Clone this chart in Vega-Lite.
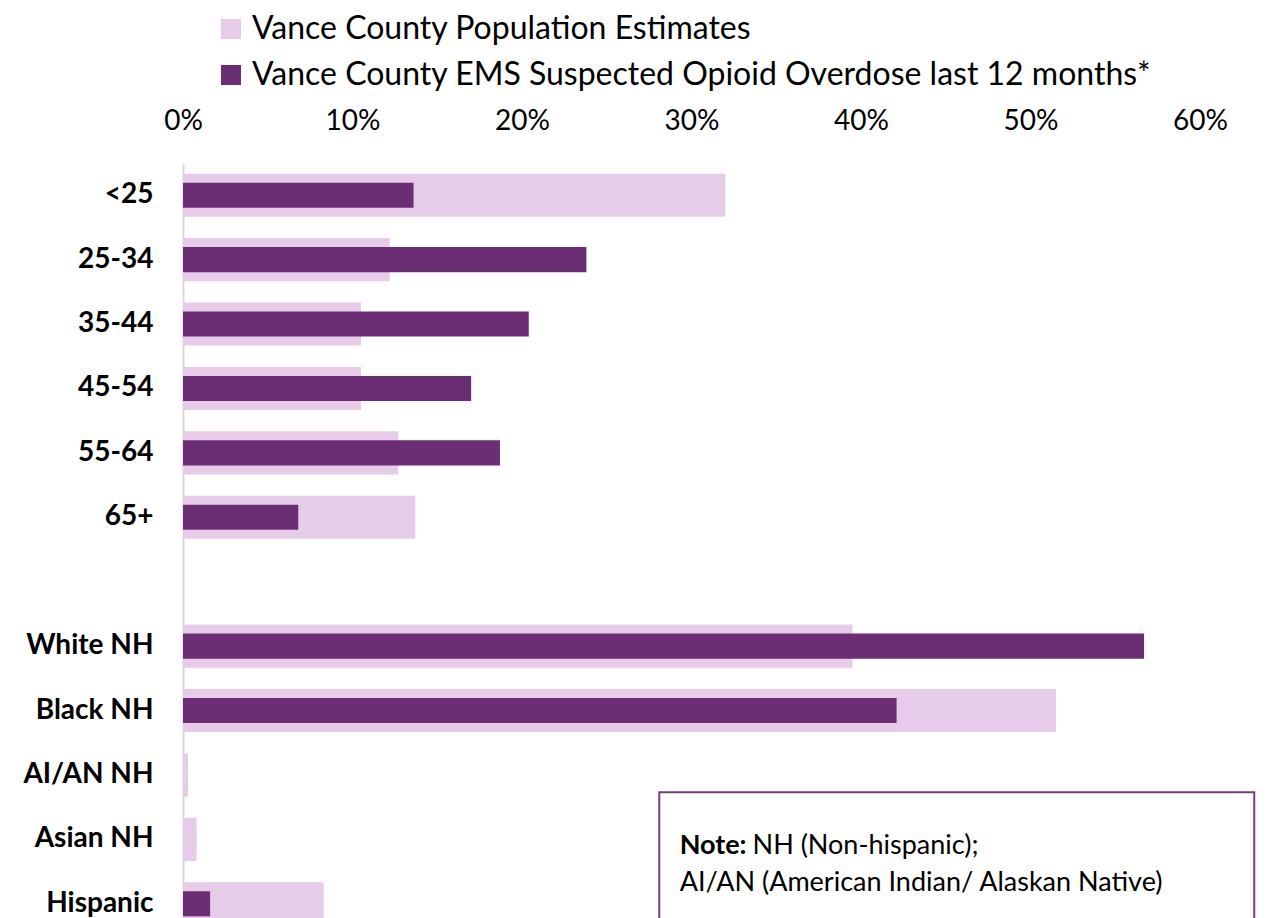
{
  "$schema": "https://vega.github.io/schema/vega-lite/v6.json",
  "autosize": {"type": "none"},
  "padding": {"left": 183, "top": 163, "right": 66, "bottom": 0},
  "width": 1017,
  "height": 755,
  "background": "white",
  "config": {"view": {"stroke": null}, "font": "Lato"},
  "datasets": {
    "bars": [
      {"category": "<25", "series": "Vance County Population Estimates", "value": 0.320},
      {"category": "25-34", "series": "Vance County Population Estimates", "value": 0.122},
      {"category": "35-44", "series": "Vance County Population Estimates", "value": 0.105},
      {"category": "45-54", "series": "Vance County Population Estimates", "value": 0.105},
      {"category": "55-64", "series": "Vance County Population Estimates", "value": 0.127},
      {"category": "65+", "series": "Vance County Population Estimates", "value": 0.137},
      {"category": "White NH", "series": "Vance County Population Estimates", "value": 0.395},
      {"category": "Black NH", "series": "Vance County Population Estimates", "value": 0.515},
      {"category": "AI/AN NH", "series": "Vance County Population Estimates", "value": 0.003},
      {"category": "Asian NH", "series": "Vance County Population Estimates", "value": 0.008},
      {"category": "Hispanic", "series": "Vance County Population Estimates", "value": 0.083},
      {"category": "<25", "series": "Vance County EMS Suspected Opioid Overdose last 12 months*", "value": 0.136},
      {"category": "25-34", "series": "Vance County EMS Suspected Opioid Overdose last 12 months*", "value": 0.238},
      {"category": "35-44", "series": "Vance County EMS Suspected Opioid Overdose last 12 months*", "value": 0.204},
      {"category": "45-54", "series": "Vance County EMS Suspected Opioid Overdose last 12 months*", "value": 0.170},
      {"category": "55-64", "series": "Vance County EMS Suspected Opioid Overdose last 12 months*", "value": 0.187},
      {"category": "65+", "series": "Vance County EMS Suspected Opioid Overdose last 12 months*", "value": 0.068},
      {"category": "White NH", "series": "Vance County EMS Suspected Opioid Overdose last 12 months*", "value": 0.567},
      {"category": "Black NH", "series": "Vance County EMS Suspected Opioid Overdose last 12 months*", "value": 0.421},
      {"category": "AI/AN NH", "series": "Vance County EMS Suspected Opioid Overdose last 12 months*", "value": 0.0},
      {"category": "Asian NH", "series": "Vance County EMS Suspected Opioid Overdose last 12 months*", "value": 0.0},
      {"category": "Hispanic", "series": "Vance County EMS Suspected Opioid Overdose last 12 months*", "value": 0.016}
    ]
  },
  "layer": [
    {
      "data": {"name": "bars"},
      "transform": [{"filter": "datum.series === 'Vance County Population Estimates'"}],
      "mark": {"type": "bar"},
      "encoding": {
        "y": {
          "field": "category", "type": "nominal",
          "scale": {
            "domain": ["<25", "25-34", "35-44", "45-54", "55-64", "65+", " ", "White NH", "Black NH", "AI/AN NH", "Asian NH", "Hispanic"],
            "range": [0, 773],
            "paddingInner": 0.33,
            "paddingOuter": 0.165
          },
          "axis": {
            "title": null, "ticks": false, "labelPadding": 30,
            "labelFontSize": 28, "labelFontWeight": "bold", "labelColor": "#000000",
            "domainColor": "#D9D9D9", "domainWidth": 2
          }
        },
        "x": {
          "field": "value", "type": "quantitative",
          "scale": {"domain": [0, 0.6], "nice": false},
          "axis": {
            "orient": "top", "title": null, "format": ".0%", "values": [0, 0.1, 0.2, 0.3, 0.4, 0.5, 0.6],
            "ticks": false, "domain": false, "grid": false,
            "labelFontSize": 28, "labelColor": "#000000", "labelPadding": 28, "labelFlush": false
          }
        },
        "color": {
          "field": "series", "type": "nominal",
          "scale": {
            "domain": ["Vance County Population Estimates", "Vance County EMS Suspected Opioid Overdose last 12 months*"],
            "range": ["#E6CCE8", "#6B2D73"]
          },
          "legend": {
            "title": null, "orient": "none", "legendX": 32, "legendY": -150,
            "direction": "vertical", "symbolType": "square", "symbolSize": 400,
            "symbolStrokeWidth": 0, "labelFontSize": 32, "labelColor": "#000000",
            "labelOffset": 5, "rowPadding": 14, "padding": 0, "labelLimit": 1200
          }
        }
      }
    },
    {
      "data": {"name": "bars"},
      "transform": [{"filter": "datum.series !== 'Vance County Population Estimates'"}],
      "mark": {"type": "bar", "height": {"band": 0.58}},
      "encoding": {
        "y": {"field": "category", "type": "nominal"},
        "x": {"field": "value", "type": "quantitative"},
        "color": {"field": "series", "type": "nominal"}
      }
    },
    {
      "data": {"values": [{}]},
      "mark": {"type": "rect", "fill": "white", "stroke": "#7B3A82", "strokeWidth": 2},
      "encoding": {
        "x": {"datum": 0.281, "type": "quantitative"},
        "x2": {"datum": 0.632},
        "y": {"datum": "AI/AN NH", "type": "nominal", "bandPosition": 0.9},
        "y2": {"datum": "Hispanic", "bandPosition": 2}
      }
    },
    {
      "data": {"values": [{}]},
      "mark": {"type": "text", "align": "left", "baseline": "middle", "fontSize": 27, "fontWeight": "bold", "color": "#000000"},
      "encoding": {
        "x": {"datum": 0.293, "type": "quantitative"},
        "y": {"datum": "Asian NH", "type": "nominal", "bandPosition": 0.66},
        "text": {"value": "Note:"}
      }
    },
    {
      "data": {"values": [{}]},
      "mark": {"type": "text", "align": "left", "baseline": "middle", "fontSize": 27, "color": "#000000"},
      "encoding": {
        "x": {"datum": 0.336, "type": "quantitative"},
        "y": {"datum": "Asian NH", "type": "nominal", "bandPosition": 0.66},
        "text": {"value": "NH (Non-hispanic);"}
      }
    },
    {
      "data": {"values": [{}]},
      "mark": {"type": "text", "align": "left", "baseline": "middle", "fontSize": 27, "color": "#000000"},
      "encoding": {
        "x": {"datum": 0.293, "type": "quantitative"},
        "y": {"datum": "Asian NH", "type": "nominal", "bandPosition": 1.52},
        "text": {"value": "AI/AN (American Indian/ Alaskan Native)"}
      }
    }
  ]
}
